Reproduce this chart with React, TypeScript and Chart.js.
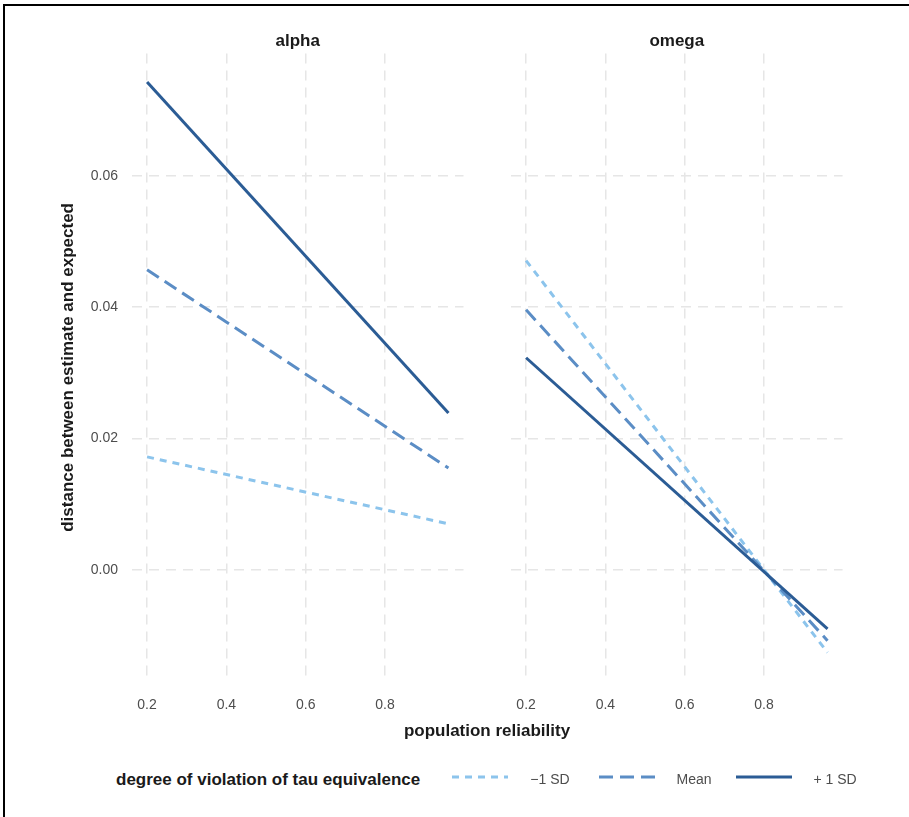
import React, { useEffect, useRef } from "react";
import { Chart, registerables } from "chart.js";

Chart.register(...registerables);

// ---------- data ----------
const reliability = [0.2, 0.96];
const xTicks = [0.2, 0.4, 0.6, 0.8];
const yTicks = [0, 0.02, 0.04, 0.06];
const panelNames = ["alpha", "omega"];
const seriesNames = ["\u22121 SD", "Mean", "+ 1 SD"];

const alphaMinus1SD = [0.0172, 0.007];
const alphaMean = [0.0457, 0.0155];
const alphaPlus1SD = [0.0743, 0.0239];

const omegaMinus1SD = [0.0471, -0.0126];
const omegaMean = [0.0396, -0.0108];
const omegaPlus1SD = [0.0323, -0.009];

const legendTitle = "degree of violation of tau equivalence";
const xTitle = "population reliability";
const yTitle = "distance between estimate and expected";

// ---------- style ----------
const FONT = "'Liberation Sans', Arial, Helvetica, sans-serif";
const COLORS = ["#8CC4EC", "#5B8DC5", "#2B5C95"];
const DASHES: number[][] = [[7, 6], [14, 7], []];
const GRID = "#E6E6E6";
const TICK_COLOR = "#4D4D4D";
const TITLE_COLOR = "#1A1A1A";

const X_MIN = 0.162;
const X_MAX = 0.998;
const Y_MIN = -0.01699;
const Y_MAX = 0.07865;

function makeConfig(series: number[][], showY: boolean, yWidth: number, padding: any): any {
  return {
    type: "line",
    data: {
      datasets: series.map((vals, i) => ({
        label: seriesNames[i],
        data: reliability.map((x, j) => ({ x, y: vals[j] })),
        borderColor: COLORS[i],
        backgroundColor: COLORS[i],
        borderWidth: 3,
        borderDash: DASHES[i],
        borderCapStyle: "butt",
        pointRadius: 0,
        pointHoverRadius: 0,
        fill: false,
        tension: 0,
        order: 2 - i,
      })),
    },
    options: {
      animation: false,
      responsive: false,
      devicePixelRatio: 1,
      events: [],
      layout: { padding },
      plugins: {
        legend: { display: false },
        tooltip: { enabled: false },
        title: { display: false },
      },
      scales: {
        x: {
          type: "linear",
          min: X_MIN,
          max: X_MAX,
          afterBuildTicks: (s: any) => {
            s.ticks = xTicks.map((v) => ({ value: v }));
          },
          afterFit: (s: any) => {
            s.height = 40;
          },
          ticks: {
            padding: 15,
            color: TICK_COLOR,
            font: { family: FONT, size: 14 },
            maxRotation: 0,
            autoSkip: false,
            callback: (v: any) => Number(v).toFixed(1),
          },
          grid: { color: GRID, lineWidth: 1.5, drawTicks: false },
          border: { display: false, dash: [10, 7] },
        },
        y: {
          type: "linear",
          min: Y_MIN,
          max: Y_MAX,
          afterBuildTicks: (s: any) => {
            s.ticks = yTicks.map((v) => ({ value: v }));
          },
          afterFit: (s: any) => {
            s.width = yWidth;
          },
          ticks: {
            display: showY,
            padding: 14,
            color: TICK_COLOR,
            font: { family: FONT, size: 14 },
            autoSkip: false,
            callback: (v: any) => Number(v).toFixed(2),
          },
          title: showY
            ? {
                display: true,
                text: yTitle,
                color: TITLE_COLOR,
                font: { family: FONT, size: 17, weight: "bold" },
                padding: { top: 58.5, bottom: 0 },
              }
            : { display: false },
          grid: { color: GRID, lineWidth: 1.5, drawTicks: false },
          border: { display: false, dash: [10, 7] },
        },
      },
    },
  };
}

function PanelChart(props: {
  series: number[][];
  showY: boolean;
  yWidth: number;
  padding: any;
  left: number;
  width: number;
  height: number;
}) {
  const ref = useRef<HTMLCanvasElement | null>(null);
  useEffect(() => {
    if (!ref.current) return;
    const chart = new Chart(ref.current, makeConfig(props.series, props.showY, props.yWidth, props.padding));
    return () => chart.destroy();
  }, []);
  return (
    <canvas
      ref={ref}
      width={props.width}
      height={props.height}
      style={{ position: "absolute", left: props.left, top: 0, width: props.width, height: props.height, display: "block" }}
    />
  );
}

function CenteredText(props: { text: string; cx: number; cy: number; size: number; bold?: boolean; color?: string }) {
  return (
    <div
      style={{
        position: "absolute",
        left: props.cx,
        top: props.cy,
        transform: "translate(-50%, -50%)",
        fontFamily: FONT,
        fontSize: props.size,
        fontWeight: props.bold ? "bold" : "normal",
        color: props.color || TITLE_COLOR,
        lineHeight: 1,
        whiteSpace: "nowrap",
      }}
    >
      {props.text}
    </div>
  );
}

function LegendKey(props: { left: number; cy: number; idx: number }) {
  const dash = DASHES[props.idx];
  return (
    <svg
      width={56}
      height={10}
      style={{ position: "absolute", left: props.left, top: props.cy - 5 }}
    >
      <line
        x1={0}
        y1={5}
        x2={56}
        y2={5}
        stroke={COLORS[props.idx]}
        strokeWidth={3}
        strokeDasharray={dash.length ? dash.join(" ") : undefined}
      />
    </svg>
  );
}

export default function App() {
  const H = 740;
  const legendY = 779;
  const keyLefts = [452, 599, 736];
  const labelCenters = [550, 694, 835];
  return (
    <div style={{ position: "absolute", left: 0, top: 0, width: 909, height: 817, background: "#fff", overflow: "hidden" }}>
      <div
        style={{
          position: "absolute",
          left: 3,
          top: 4,
          width: 906,
          height: 813,
          borderTop: "2px solid #000",
          borderLeft: "2px solid #000",
          boxSizing: "border-box",
        }}
      />
      <PanelChart
        series={[alphaMinus1SD, alphaMean, alphaPlus1SD]}
        showY={true}
        yWidth={132}
        padding={{ left: 0, top: 53.5, right: 16.5, bottom: H - 681.3 - 40 }}
        left={0}
        width={480}
        height={H}
      />
      <PanelChart
        series={[omegaMinus1SD, omegaMean, omegaPlus1SD]}
        showY={false}
        yWidth={31}
        padding={{ left: 0, top: 53.5, right: 66.4, bottom: H - 681.3 - 40 }}
        left={480}
        width={429}
        height={H}
      />
      <CenteredText text={panelNames[0]} cx={297.75} cy={40} size={17} bold />
      <CenteredText text={panelNames[1]} cx={676.8} cy={40} size={17} bold />
      <CenteredText text={xTitle} cx={487} cy={730} size={17} bold />
      <div
        style={{
          position: "absolute",
          left: 116,
          top: legendY,
          transform: "translateY(-50%)",
          fontFamily: FONT,
          fontSize: 17,
          fontWeight: "bold",
          color: TITLE_COLOR,
          lineHeight: 1,
          whiteSpace: "nowrap",
        }}
      >
        {legendTitle}
      </div>
      {seriesNames.map((name, i) => (
        <React.Fragment key={name}>
          <LegendKey left={keyLefts[i]} cy={legendY - 2} idx={i} />
          <CenteredText text={name} cx={labelCenters[i]} cy={legendY} size={14} color={TICK_COLOR} />
        </React.Fragment>
      ))}
    </div>
  );
}
